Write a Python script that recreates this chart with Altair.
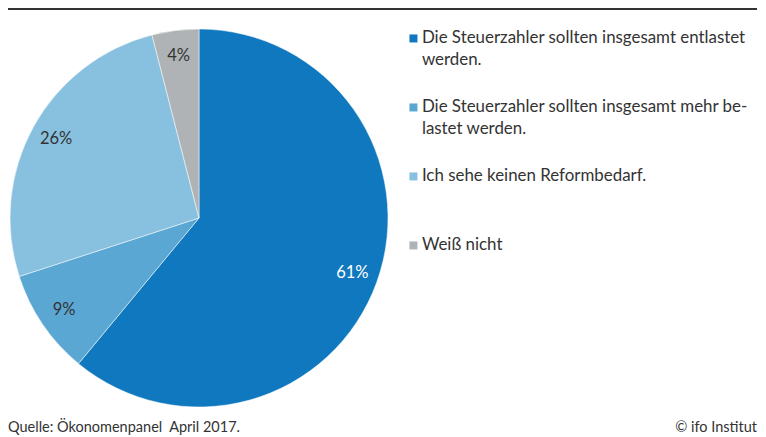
import altair as alt
import pandas as pd

# data
categories = [
    "Die Steuerzahler sollten insgesamt entlastet|werden.",
    "Die Steuerzahler sollten insgesamt mehr be-|lastet werden.",
    "Ich sehe keinen Reformbedarf.|",
    "Weiß nicht|",
]
values = [61, 9, 26, 4]
slice_labels = ["61%", "9%", "26%", "4%"]
colors = ["#1078BE", "#5AA7D3", "#88C0DF", "#B0B3B5"]
label_colors = ["#ffffff", "#333333", "#333333", "#333333"]
footer_left = "Quelle: Ökonomenpanel\u00a0 April 2017."
footer_right = "© ifo Institut"

FONT = "Lato"
df = pd.DataFrame({
    "cat": categories,
    "value": values,
    "label": slice_labels,
    "idx": list(range(len(values))),
    "tc": label_colors,
})

CX, CY = 191, 210

base = alt.Chart(df).encode(
    theta=alt.Theta("value:Q", stack=True),
    order=alt.Order("idx:Q"),
)

pie = base.mark_arc(outerRadius=189, stroke="white", strokeWidth=0.5).encode(
    color=alt.Color(
        "cat:N",
        sort=categories,
        scale=alt.Scale(domain=categories, range=colors),
        legend=alt.Legend(
            title=None,
            orient="none",
            legendX=397,
            legendY=22,
            symbolType="square",
            symbolSize=64,
            symbolStrokeWidth=0,
            labelFont=FONT,
            labelFontSize=16.9,
            labelColor="#333333",
            labelLimit=400,
            labelOffset=0,
            rowPadding=29,
            labelExpr="split(datum.label, '|')",
        ),
    ),
    x=alt.value(CX),
    y=alt.value(CY),
)

text = base.mark_text(radius=163, font=FONT, fontSize=16.5).encode(
    text="label:N",
    color=alt.Color("tc:N", scale=None),
    x=alt.value(CX),
    y=alt.value(CY),
)

foot_df = pd.DataFrame({"left": [footer_left], "right": [footer_right]})
rule = alt.Chart(foot_df).mark_rule(color="#333333", strokeWidth=2).encode(
    x=alt.value(-1), x2=alt.value(749), y=alt.value(1)
)
fl = alt.Chart(foot_df).mark_text(align="left", baseline="middle", font=FONT, fontSize=14.5, color="#333333").encode(
    text="left:N", x=alt.value(0), y=alt.value(420)
)
fr = alt.Chart(foot_df).mark_text(align="right", baseline="middle", font=FONT, fontSize=14.5, color="#333333").encode(
    text="right:N", x=alt.value(749), y=alt.value(420)
)

chart = alt.layer(pie, text, rule, fl, fr).properties(
    width=750, height=428, padding=0,
    autosize=alt.AutoSizeParams(type="none"),
).configure(
    style={"guide-label": {"lineHeight": 22}},
    view={"stroke": None},
)

chart.save("out.html", embed_options={"renderer": "svg", "actions": False})
